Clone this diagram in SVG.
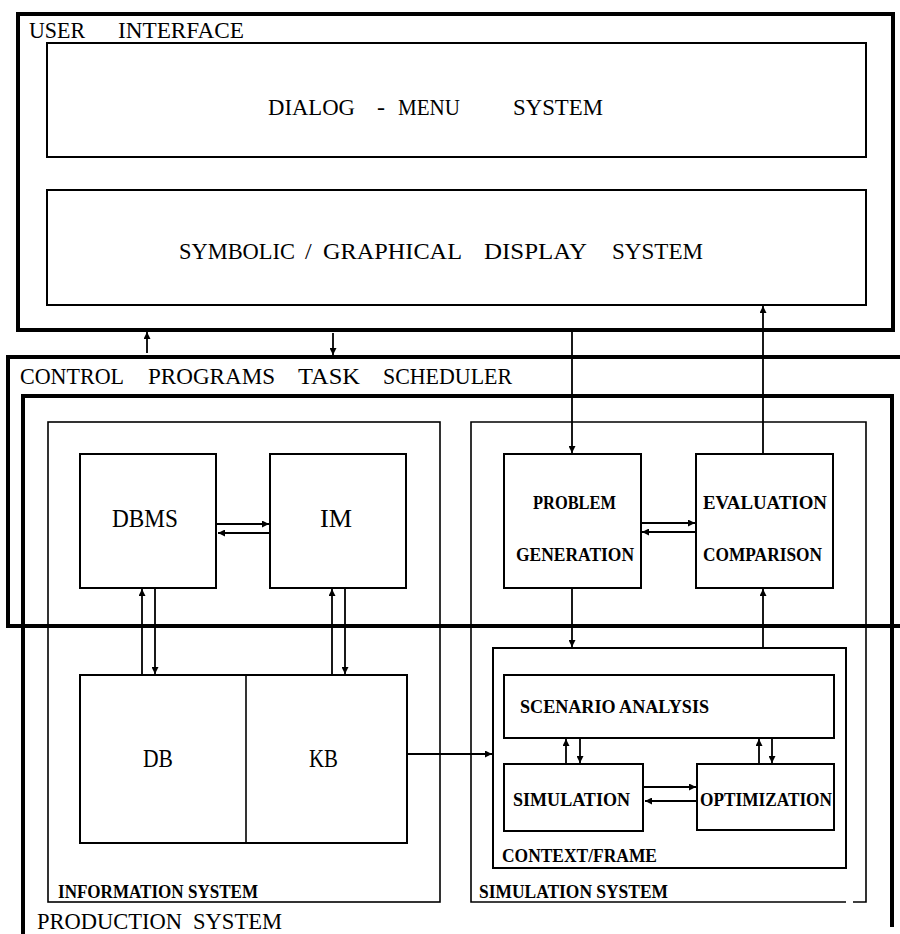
<svg xmlns="http://www.w3.org/2000/svg" width="900" height="934" viewBox="0 0 900 934">
<style>
.thick{fill:none;stroke:#000;stroke-width:4}
.box{fill:none;stroke:#000;stroke-width:2}
.thin{fill:none;stroke:#000;stroke-width:1.6}
.t{font-family:"Liberation Serif",serif;font-size:24px;fill:#000}
.n{font-family:"Liberation Serif",serif;font-size:25px;fill:#000}
.b{font-family:"Liberation Serif",serif;font-weight:bold;font-size:18px;fill:#000}
.s{font-family:"Liberation Serif",serif;font-weight:bold;font-size:18px;fill:#000}
.c{fill:none;stroke:#000;stroke-width:1.8}
</style>
<defs>
<marker id="ah" markerUnits="userSpaceOnUse" markerWidth="8" markerHeight="7" refX="7" refY="3.5" orient="auto">
<path d="M0,0 L7,3.5 L0,7 z" fill="#000"/>
</marker>
</defs>
<rect width="900" height="934" fill="#fff"/>

<g id="user-interface">
<rect class="thick" x="18" y="14" width="875" height="316"/>
<text class="t" y="38"><tspan x="29" textLength="56" lengthAdjust="spacingAndGlyphs">USER</tspan><tspan x="118" textLength="126" lengthAdjust="spacingAndGlyphs">INTERFACE</tspan></text>
</g>
<g id="dialog-menu">
<rect class="box" x="47" y="43" width="819" height="114"/>
<text class="t" y="115"><tspan x="268" textLength="87" lengthAdjust="spacingAndGlyphs">DIALOG</tspan><tspan x="377">-</tspan><tspan x="398" textLength="62" lengthAdjust="spacingAndGlyphs">MENU</tspan><tspan x="513" textLength="90" lengthAdjust="spacingAndGlyphs">SYSTEM</tspan></text>
</g>
<g id="display-system">
<rect class="box" x="47" y="190" width="819" height="115"/>
<text class="t" y="259"><tspan x="179" textLength="116" lengthAdjust="spacingAndGlyphs">SYMBOLIC</tspan><tspan x="305">/</tspan><tspan x="323" textLength="139" lengthAdjust="spacingAndGlyphs">GRAPHICAL</tspan><tspan x="484" textLength="103" lengthAdjust="spacingAndGlyphs">DISPLAY</tspan><tspan x="612" textLength="91" lengthAdjust="spacingAndGlyphs">SYSTEM</tspan></text>
</g>

<g id="control-programs">
<rect class="thick" x="8" y="357" width="900" height="269"/>
<text class="t" y="384"><tspan x="20" textLength="104" lengthAdjust="spacingAndGlyphs">CONTROL</tspan><tspan x="148" textLength="127" lengthAdjust="spacingAndGlyphs">PROGRAMS</tspan><tspan x="298" textLength="62" lengthAdjust="spacingAndGlyphs">TASK</tspan><tspan x="383" textLength="129" lengthAdjust="spacingAndGlyphs">SCHEDULER</tspan></text>
</g>
<g id="production-system">
<path class="thick" d="M23,940 V396 H892 V927"/>
<text class="t" y="929"><tspan x="37" textLength="145" lengthAdjust="spacingAndGlyphs">PRODUCTION</tspan><tspan x="193" textLength="89" lengthAdjust="spacingAndGlyphs">SYSTEM</tspan></text>
</g>

<g id="information-system">
<rect class="thin" x="48" y="422" width="392" height="480"/>
<text class="s" x="58" y="898" textLength="200" lengthAdjust="spacingAndGlyphs">INFORMATION SYSTEM</text>
</g>
<g id="dbms">
<rect class="box" x="80" y="454" width="136" height="134"/>
<text class="n" x="112" y="527" textLength="66" lengthAdjust="spacingAndGlyphs">DBMS</text>
</g>
<g id="im">
<rect class="box" x="270" y="454" width="136" height="134"/>
<text class="n" x="320" y="527" textLength="32" lengthAdjust="spacingAndGlyphs">IM</text>
</g>
<g id="db-kb">
<rect class="box" x="80" y="675" width="327" height="168"/>
<line class="thin" x1="246" y1="675" x2="246" y2="843"/>
<text class="n" x="143" y="767" textLength="30" lengthAdjust="spacingAndGlyphs">DB</text>
<text class="n" x="309" y="767" textLength="29" lengthAdjust="spacingAndGlyphs">KB</text>
</g>

<g id="simulation-system">
<path class="thin" d="M846,902 H471 V422 H866 V902 H853"/>
<text class="s" x="479" y="898" textLength="189" lengthAdjust="spacingAndGlyphs">SIMULATION SYSTEM</text>
</g>
<g id="problem-generation">
<rect class="box" x="504" y="454" width="137" height="134"/>
<text class="b" x="533" y="509" textLength="83" lengthAdjust="spacingAndGlyphs">PROBLEM</text>
<text class="b" x="516" y="561" textLength="118" lengthAdjust="spacingAndGlyphs">GENERATION</text>
</g>
<g id="evaluation-comparison">
<rect class="box" x="696" y="454" width="137" height="134"/>
<text class="b" x="703" y="509" textLength="124" lengthAdjust="spacingAndGlyphs">EVALUATION</text>
<text class="b" x="703" y="561" textLength="119" lengthAdjust="spacingAndGlyphs">COMPARISON</text>
</g>
<g id="context-frame">
<rect class="box" x="493" y="648" width="353" height="220"/>
<text class="s" x="502" y="862" textLength="155" lengthAdjust="spacingAndGlyphs">CONTEXT/FRAME</text>
</g>
<g id="scenario-analysis">
<rect class="box" x="504" y="675" width="330" height="63"/>
<text class="b" x="520" y="713" textLength="189" lengthAdjust="spacingAndGlyphs">SCENARIO ANALYSIS</text>
</g>
<g id="simulation">
<rect class="box" x="504" y="764" width="139" height="67"/>
<text class="b" x="513" y="806" textLength="117" lengthAdjust="spacingAndGlyphs">SIMULATION</text>
</g>
<g id="optimization">
<rect class="box" x="697" y="764" width="137" height="66"/>
<text class="b" x="700" y="806" textLength="132" lengthAdjust="spacingAndGlyphs">OPTIMIZATION</text>
</g>

<g id="connectors" class="c" marker-end="url(#ah)">
<line x1="147" y1="353" x2="147" y2="332"/>
<line x1="333" y1="333" x2="333" y2="355"/>
<line x1="572" y1="332" x2="572" y2="453"/>
<line x1="763" y1="454" x2="763" y2="306"/>
<line x1="217" y1="524" x2="269" y2="524"/>
<line x1="269" y1="533" x2="218" y2="533"/>
<line x1="142" y1="675" x2="142" y2="589"/>
<line x1="155" y1="589" x2="155" y2="674"/>
<line x1="332" y1="675" x2="332" y2="589"/>
<line x1="345" y1="589" x2="345" y2="674"/>
<line x1="407" y1="754" x2="492" y2="754"/>
<line x1="572" y1="589" x2="572" y2="647"/>
<line x1="763" y1="648" x2="763" y2="589"/>
<line x1="641" y1="523" x2="695" y2="523"/>
<line x1="695" y1="532" x2="642" y2="532"/>
<line x1="644" y1="787" x2="696" y2="787"/>
<line x1="696" y1="801" x2="645" y2="801"/>
<line x1="566" y1="763" x2="566" y2="739"/>
<line x1="580" y1="739" x2="580" y2="763"/>
<line x1="759" y1="763" x2="759" y2="739"/>
<line x1="772" y1="739" x2="772" y2="763"/>
</g>
</svg>
